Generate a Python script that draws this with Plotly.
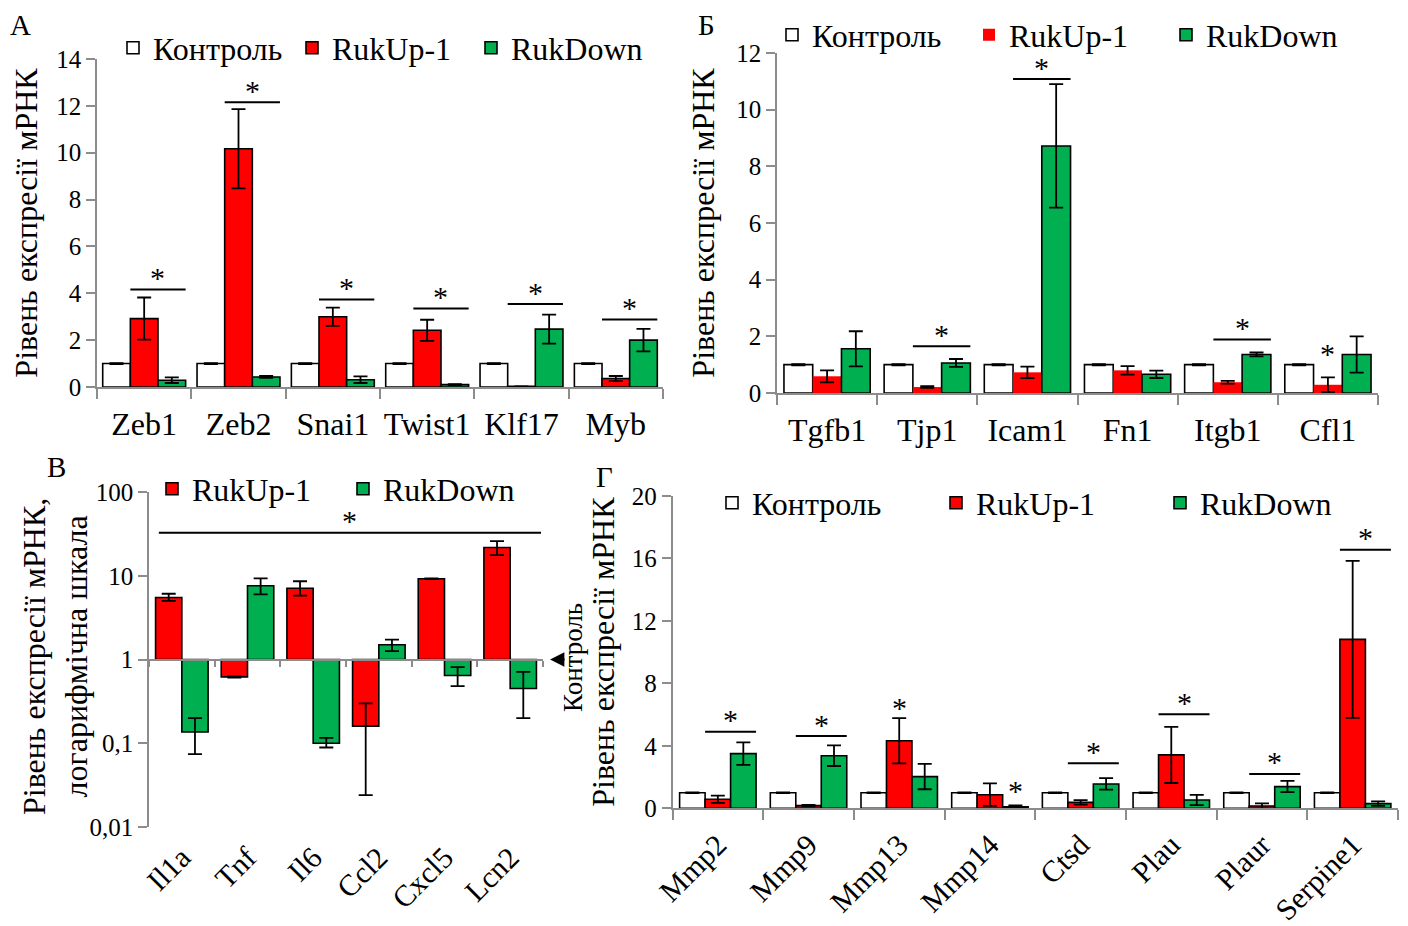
import math
import plotly.graph_objects as go

FONT = "Liberation Serif"
RED = "#FF0000"
GREEN = "#00B050"
WHITE = "#FFFFFF"
AXIS = "#8C8C8C"

series_names = ["Контроль", "RukUp-1", "RukDown"]

# ---------------- Panel A ----------------
a_genes = ["Zeb1", "Zeb2", "Snai1", "Twist1", "Klf17", "Myb"]
a_ctrl = [1, 1, 1, 1, 1, 1]
a_ctrl_err = [0.02, 0.02, 0.02, 0.02, 0.02, 0.02]
a_up = [2.92, 10.17, 3.0, 2.42, 0.03, 0.36]
a_up_err = [0.9, 1.69, 0.39, 0.45, 0.0, 0.11]
a_down = [0.29, 0.43, 0.31, 0.1, 2.47, 2.0]
a_down_err = [0.12, 0.04, 0.14, 0.02, 0.62, 0.48]
a_sig_line = [4.16, 12.15, 3.74, 3.35, 3.54, 2.88]
a_yticks = [0, 2, 4, 6, 8, 10, 12, 14]

# ---------------- Panel B ----------------
b_genes = ["Tgfb1", "Tjp1", "Icam1", "Fn1", "Itgb1", "Cfl1"]
b_ctrl = [1, 1, 1, 1, 1, 1]
b_ctrl_err = [0.02, 0.02, 0.02, 0.02, 0.02, 0.02]
b_up = [0.59, 0.21, 0.73, 0.8, 0.38, 0.29]
b_up_err = [0.21, 0.03, 0.2, 0.15, 0.05, 0.26]
b_down = [1.56, 1.06, 8.72, 0.66, 1.36, 1.36]
b_down_err = [0.62, 0.14, 2.18, 0.13, 0.07, 0.64]
b_sig_line_idx = [1, 2, 4]
b_sig_line = [1.65, 11.08, 1.89]
b_sig_star_idx = [5]          # star only, above RukUp-1 bar
b_sig_star = [1.48]
b_yticks = [0, 2, 4, 6, 8, 10, 12]

# ---------------- Panel C (log scale) ----------------
c_genes = ["Il1a", "Tnf", "Il6", "Ccl2", "Cxcl5", "Lcn2"]
c_up = [5.5, 0.62, 7.1, 0.16, 9.2, 21.7]
c_up_hi = [6.1, 0.63, 8.6, 0.30, 9.3, 25.9]
c_up_lo = [5.0, 0.61, 5.8, 0.024, 9.1, 17.6]
c_down = [0.136, 7.6, 0.1, 1.5, 0.645, 0.45]
c_down_hi = [0.2, 9.3, 0.116, 1.73, 0.81, 0.71]
c_down_lo = [0.074, 6.0, 0.089, 1.26, 0.48, 0.2]
c_sig_level = 32.7
c_yticks = [0.01, 0.1, 1, 10, 100]
c_yticklabels = ["0,01", "0,1", "1", "10", "100"]
c_control_level = 1

# ---------------- Panel D ----------------
d_genes = ["Mmp2", "Mmp9", "Mmp13", "Mmp14", "Ctsd", "Plau", "Plaur", "Serpine1"]
d_ctrl = [1, 1, 1, 1, 1, 1, 1, 1]
d_ctrl_err = [0.02] * 8
d_up = [0.58, 0.17, 4.33, 0.87, 0.38, 3.42, 0.15, 10.82]
d_up_err = [0.23, 0.05, 1.45, 0.72, 0.14, 1.8, 0.17, 5.03]
d_down = [3.5, 3.37, 2.03, 0.1, 1.56, 0.53, 1.39, 0.3]
d_down_err = [0.72, 0.66, 0.81, 0.08, 0.37, 0.33, 0.36, 0.14]
d_sig_line_idx = [0, 1, 4, 5, 6, 7]
d_sig_line = [4.91, 4.63, 2.88, 6.02, 2.2, 16.56]
d_sig_star_idx = [2, 3]       # star only (Mmp13 above RukUp-1, Mmp14 above RukDown)
d_sig_star_series = [1, 2]
d_sig_star = [6.6, 1.3]
d_yticks = [0, 4, 8, 12, 16, 20]

# ---------------- layout geometry ----------------
W, H = 1408, 926
OFF = 8  # page body margin that precedes the plot div


def px_x(a, b):
    return [(a - OFF) / W, (b - OFF) / W]


def px_y(top, bottom):
    return [1 - (bottom - OFF) / H, 1 - (top - OFF) / H]


def pX(a):
    return (a - OFF) / W


def pY(a):
    return 1 - (a - OFF) / H


domA_x, domA_y = px_x(97, 663), px_y(59, 387)
domB_x, domB_y = px_x(777, 1378), px_y(53, 393)
domC_x, domC_y = px_x(149, 543), px_y(492, 827)
domD_x, domD_y = px_x(672.5, 1398), px_y(496, 808.3)

fig = go.Figure()
ERRW = 7


def add_group(xa, ya, legend, genes, vals, errs, colors, lines, width, show_names):
    n = len(vals)
    offsets = [(-n / 2 + k) * width for k in range(n)]
    for k in range(n):
        fig.add_trace(go.Bar(
            x=genes, y=vals[k], name=show_names[k],
            xaxis=xa, yaxis=ya, legend=legend,
            width=width, offset=offsets[k],
            marker=dict(color=colors[k], line=dict(color=lines[k], width=1.6 if lines[k] != colors[k] else 0)),
            error_y=dict(type="data", array=errs[k], color="black", thickness=1.8, width=ERRW),
        ))
    return offsets


wA = 0.293
add_group("x", "y", "legend", a_genes, [a_ctrl, a_up, a_down], [a_ctrl_err, a_up_err, a_down_err],
          [WHITE, RED, GREEN], ["black", "black", "black"], wA, series_names)
wB = 0.287
add_group("x2", "y2", "legend2", b_genes, [b_ctrl, b_up, b_down], [b_ctrl_err, b_up_err, b_down_err],
          [WHITE, RED, GREEN], ["black", RED, "black"], wB, series_names)
wD = 0.281
add_group("x4", "y4", "legend4", d_genes, [d_ctrl, d_up, d_down], [d_ctrl_err, d_up_err, d_down_err],
          [WHITE, RED, GREEN], ["black", "black", "black"], wD, series_names)

# Panel C: bars drawn from the control level (1) on a log axis
wC = 0.4
c_sets = [(c_up, c_up_hi, c_up_lo, RED, "RukUp-1", -wC), (c_down, c_down_hi, c_down_lo, GREEN, "RukDown", 0)]
for vals, hi, lo, col, nm, off in c_sets:
    fig.add_trace(go.Bar(
        x=c_genes, y=[v - c_control_level for v in vals], base=c_control_level, name=nm,
        xaxis="x3", yaxis="y3", legend="legend3", width=wC, offset=off,
        marker=dict(color=col, line=dict(color="black", width=1.6)),
        error_y=dict(type="data", symmetric=False,
                     array=[h - v for h, v in zip(hi, vals)],
                     arrayminus=[v - l for v, l in zip(vals, lo)],
                     color="black", thickness=1.8, width=ERRW),
    ))
# invisible helper so the control-level axis line (x5) gets drawn
fig.add_trace(go.Scatter(x=[None], y=[None], xaxis="x5", yaxis="y3", showlegend=False,
                         hoverinfo="skip", mode="markers"))

tickfont = dict(family=FONT, size=25, color="black")
catfont = dict(family=FONT, size=32, color="black")
rotfont = dict(family=FONT, size=30, color="black")
titlefont = dict(family=FONT, size=32, color="black")


def yax(dom, rng, ticks, title, standoff, xa):
    return dict(domain=dom, range=rng, tickvals=ticks, ticks="outside", ticklen=9, tickwidth=1.5,
                tickcolor=AXIS, showline=True, linecolor=AXIS, linewidth=1.5, showgrid=False,
                zeroline=False, tickfont=tickfont, anchor=xa, automargin=False,
                title=dict(text=title, font=titlefont, standoff=standoff))


def xax(dom, genes, ya, font, ticklen=10, angle=0, standoff=8):
    return dict(domain=dom, type="category", categoryarray=genes, categoryorder="array",
                range=[-0.5, len(genes) - 0.5], tickson="boundaries", ticks="outside",
                ticklen=ticklen, tickwidth=1.5, tickcolor=AXIS, showline=True, linecolor=AXIS,
                linewidth=2, showgrid=False, zeroline=False, tickfont=font, anchor=ya,
                tickangle=angle, ticklabelstandoff=standoff, automargin=False)


ytitle = "Рівень експресії мРНК"
layout = dict(
    width=W, height=H, margin=dict(l=0, r=0, t=0, b=0, autoexpand=False),
    paper_bgcolor="white", plot_bgcolor="white", barmode="overlay",
    showlegend=True,
    xaxis=xax(domA_x, a_genes, "y", catfont),
    yaxis=yax(domA_y, [0, 14], a_yticks, ytitle, 23, "x"),
    xaxis2=xax(domB_x, b_genes, "y2", catfont),
    yaxis2=yax(domB_y, [0, 12], b_yticks, ytitle, 12, "x2"),
    xaxis3=dict(domain=domC_x, type="category", categoryarray=c_genes, categoryorder="array",
                range=[-0.5, len(c_genes) - 0.5], showline=False, ticks="", showgrid=False,
                zeroline=False, tickfont=rotfont, anchor="y3", automargin=False,
                tickangle=-45, ticklabelstandoff=6),
    yaxis3=dict(domain=domC_y, type="log", range=[math.log10(c_yticks[0]), math.log10(c_yticks[-1])],
                tickvals=c_yticks, ticktext=c_yticklabels, ticks="outside", ticklen=9, tickwidth=1.5,
                tickcolor=AXIS, showline=True, linecolor=AXIS, linewidth=1.5, showgrid=False,
                zeroline=False, tickfont=tickfont, anchor="x3", automargin=False),
    # axis line through the control level (1) with category boundary ticks
    xaxis5=dict(overlaying="x3", anchor="free",
                position=(domC_y[0] + domC_y[1]) / 2,
                range=[-0.5, len(c_genes) - 0.5],
                tickvals=[k - 0.5 for k in range(len(c_genes) + 1)], showticklabels=False,
                ticks="outside", ticklen=6, tickwidth=1.5, tickcolor=AXIS, showline=True,
                linecolor=AXIS, linewidth=2, showgrid=False, zeroline=False, automargin=False),
    xaxis4=xax(domD_x, d_genes, "y4", rotfont, ticklen=10, angle=-45, standoff=5),
    yaxis4=yax(domD_y, [0, 20], d_yticks, ytitle, 8, "x4"),
)

legfont = dict(family=FONT, size=32, color="black")


def leg(text_px, ypx, ew):
    # text_px: page x where the first legend label starts
    return dict(x=pX(text_px - 40), y=pY(ypx), xanchor="left", yanchor="middle", orientation="h",
                font=legfont, entrywidth=ew, bgcolor="rgba(0,0,0,0)", borderwidth=0)


layout["legend"] = leg(153, 48, 134)
layout["legend2"] = leg(812, 35, 152)
layout["legend3"] = leg(192, 489, 146)
layout["legend4"] = leg(752, 503, 179)
fig.update_layout(**layout)

shapes = []
annotations = []
starfont = dict(family=FONT, size=30, color="black")
STAR_UP = 12


def sig_line(xr, yr, i, w, level):
    shapes.append(dict(type="line", xref=xr, yref=yr, x0=i - 0.5 * w, x1=i + 1.5 * w,
                       y0=level, y1=level, line=dict(color="black", width=2)))
    annotations.append(dict(xref=xr, yref=yr, x=i + 0.5 * w, y=level, text="*", showarrow=False,
                            font=starfont, yanchor="middle", yshift=STAR_UP))


def sig_star(xr, yr, x, level):
    annotations.append(dict(xref=xr, yref=yr, x=x, y=level, text="*", showarrow=False,
                            font=starfont, yanchor="middle", yshift=-2))


for i, lv in enumerate(a_sig_line):
    sig_line("x", "y", i, wA, lv)
for i, lv in zip(b_sig_line_idx, b_sig_line):
    sig_line("x2", "y2", i, wB, lv)
for i, lv in zip(b_sig_star_idx, b_sig_star):
    sig_star("x2", "y2", i, lv)
for i, lv in zip(d_sig_line_idx, d_sig_line):
    sig_line("x4", "y4", i, wD, lv)
for i, s, lv in zip(d_sig_star_idx, d_sig_star_series, d_sig_star):
    sig_star("x4", "y4", i + (s - 1) * wD, lv)

# Panel C: one significance line over all genes
c_x0, c_x1 = -0.5 + 0.15, len(c_genes) - 0.5 - 0.03
shapes.append(dict(type="line", xref="x3", yref="y3", x0=c_x0, x1=c_x1,
                   y0=c_sig_level, y1=c_sig_level, line=dict(color="black", width=2)))
annotations.append(dict(xref="x3", yref="y3", x=(c_x0 + c_x1) / 2, y=math.log10(c_sig_level), text="*",
                        showarrow=False, font=starfont, yanchor="middle", yshift=STAR_UP))

# Panel C y-axis title (two lines)
annotations.append(dict(xref="paper", yref="paper", x=pX(55), y=pY(657),
                        text="Рівень експресії мРНК,<br>логарифмічна шкала", textangle=-90,
                        showarrow=False, font=titlefont, xanchor="center", yanchor="middle"))

# Control marker arrow for panel C
annotations.append(dict(xref="x3 domain", yref="y3", x=1.018, y=math.log10(c_control_level), ax=16, ay=0,
                        text="", showarrow=True, arrowhead=2, arrowsize=1.3, arrowwidth=2.2,
                        arrowcolor="black"))
annotations.append(dict(xref="paper", yref="paper", x=pX(573), y=pY(658), text="Контроль",
                        textangle=-90, showarrow=False, xanchor="center", yanchor="middle",
                        font=dict(family=FONT, size=27, color="black")))

# Panel letters
letterfont = dict(family=FONT, size=29, color="black")
for txt, xp, yp, anc in [("А", 20, OFF, "top"), ("Б", 706, OFF, "top"),
                         ("В", 57, 467, "middle"), ("Г", 604, 477, "middle")]:
    annotations.append(dict(xref="paper", yref="paper", x=pX(xp), y=pY(yp), text=txt,
                            showarrow=False, font=letterfont, xanchor="center", yanchor=anc,
                            borderpad=0))

fig.update_layout(shapes=shapes, annotations=annotations)
fig.write_html("out.html")
